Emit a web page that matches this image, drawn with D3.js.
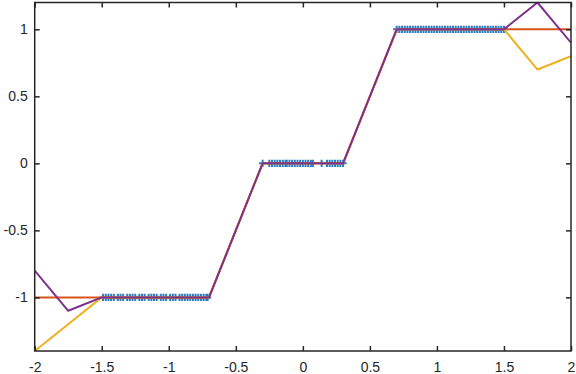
<!DOCTYPE html>
<html><head><meta charset="utf-8">
<script src="https://cdn.jsdelivr.net/npm/d3@7"></script>
<style>body{margin:0;background:#fff}svg{display:block}text{font-family:"Liberation Sans",Helvetica,Arial,sans-serif}</style>
</head><body>
<svg id="c" width="576" height="374"></svg>
<script>
// Data samples (blue '+')
const lowX = [-1.49,-1.47,-1.45,-1.43,-1.41,-1.38,-1.36,-1.34,-1.31,-1.29,-1.27,-1.25,-1.22,-1.20,-1.18,-1.15,-1.13,-1.11,-1.09,-1.06,-1.04,-1.02,-0.99,-0.97,-0.95,-0.92,-0.90,-0.88,-0.86,-0.84,-0.82,-0.80,-0.78,-0.76,-0.74,-0.72,-0.71];
const midX = [-0.30,-0.25,-0.23,-0.21,-0.19,-0.17,-0.15,-0.13,-0.12,-0.10,-0.08,-0.06,-0.04,-0.02,0.00,0.02,0.04,0.06,0.075,0.14,0.18,0.20,0.22,0.24,0.26,0.28,0.30];
const highX = [0.70,0.72,0.74,0.76,0.78,0.80,0.82,0.84,0.86,0.88,0.90,0.92,0.94,0.96,0.98,1.00,1.02,1.04,1.06,1.08,1.10,1.12,1.14,1.16,1.18,1.20,1.22,1.24,1.26,1.28,1.30,1.32,1.34,1.36,1.38,1.40,1.42,1.44,1.46,1.48,1.50];
const lowY = -1, midY = 0, highY = 1;

// Interpolated curves
const orangeX = [-2,-1.75,-1.5,-0.7,-0.3,0.3,0.7,1.5,1.75,2];
const orangeY = [-1,-1,-1,-1,0,0,1,1,1,1];
const yellowX = [-2,-1.75,-1.5,-0.7,-0.3,0.3,0.7,1.5,1.75,2];
const yellowY = [-1.4,-1.2,-1,-1,0,0,1,1,0.7,0.8];
const purpleX = [-2,-1.75,-1.5,-0.7,-0.3,0.3,0.7,1.5,1.75,2];
const purpleY = [-0.8,-1.1,-1,-1,0,0,1,1,1.2,0.9];

const xTicks = [-2,-1.5,-1,-0.5,0,0.5,1,1.5,2];
const yTicks = [-1,-0.5,0,0.5,1];

const L=34.7, R=571, T=2.5, B=351;
const x = d3.scaleLinear().domain([-2,2]).range([L,R]);
const y = d3.scaleLinear().domain([-1.4,1.2]).range([B,T]);
const svg = d3.select("#c");
const ink = "#262626";

svg.append("clipPath").attr("id","clp").append("rect").attr("x",L).attr("y",T).attr("width",R-L).attr("height",B-T);
const g = svg.append("g").attr("clip-path","url(#clp)");

const pts = [];
lowX.forEach(v=>pts.push([v,lowY]));
midX.forEach(v=>pts.push([v,midY]));
highX.forEach(v=>pts.push([v,highY]));
const s=3.6;
g.selectAll("path.pt").data(pts).enter().append("path")
 .attr("d",d=>{const px=x(d[0]),py=y(d[1]);return `M${px-s},${py}H${px+s}M${px},${py-s}V${py+s}`;})
 .attr("stroke","#2a7cc0").attr("stroke-width",2).attr("fill","none");

const line = d3.line().x(d=>x(d[0])).y(d=>y(d[1]));
function draw(xs,ys,col){
  g.append("path").attr("d",line(xs.map((v,i)=>[v,ys[i]]))).attr("fill","none").attr("stroke",col).attr("stroke-width",2).attr("stroke-linejoin","round");
}
draw(orangeX,orangeY,"#D95319");
draw(yellowX,yellowY,"#EDB120");
draw(purpleX,purpleY,"#7E2F8E");

// Axes box
svg.append("rect").attr("x",L).attr("y",T).attr("width",R-L).attr("height",B-T).attr("fill","none").attr("stroke",ink).attr("stroke-width",1.5);

const xb = svg.append("g").attr("transform",`translate(0,${B})`).call(d3.axisBottom(x).tickValues(xTicks).tickSizeInner(-5).tickSizeOuter(0).tickPadding(11).tickFormat(d=>String(d)));
const xt = svg.append("g").attr("transform",`translate(0,${T})`).call(d3.axisTop(x).tickValues(xTicks).tickSizeInner(-5).tickSizeOuter(0).tickFormat(""));
const yl = svg.append("g").attr("transform",`translate(${L},0)`).call(d3.axisLeft(y).tickValues(yTicks).tickSizeInner(-5).tickSizeOuter(0).tickPadding(7).tickFormat(d=>String(d)));
const yr = svg.append("g").attr("transform",`translate(${R},0)`).call(d3.axisRight(y).tickValues(yTicks).tickSizeInner(-5).tickSizeOuter(0).tickFormat(""));
[xb,xt,yl,yr].forEach(a=>{a.select(".domain").remove();a.selectAll("line").attr("stroke",ink).attr("stroke-width",1.5);a.selectAll("text").attr("fill",ink).attr("font-size",14);});
</script>
</body></html>
